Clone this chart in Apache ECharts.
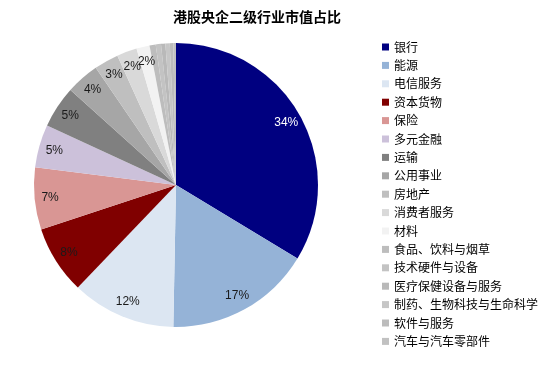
<!DOCTYPE html>
<html>
<head>
<meta charset="utf-8">
<script src="https://cdn.jsdelivr.net/npm/echarts@6/dist/echarts.min.js"></script>
<style>
html,body{margin:0;padding:0;background:#fff;}
#chart{width:550px;height:366px;}
</style>
</head>
<body>
<div id="chart"></div>
<script>
var titleText = '港股央企二级行业市值占比';
var categories = ['银行','能源','电信服务','资本货物','保险','多元金融','运输','公用事业','房地产','消费者服务','材料','食品、饮料与烟草','技术硬件与设备','医疗保健设备与服务','制药、生物科技与生命科学','软件与服务','汽车与汽车零部件'];
var values = [33.8, 16.7, 11.9, 7.8, 7.1, 4.9, 4.8, 3.8, 2.8, 2.3, 1.5, 0.7, 0.6, 0.5, 0.5, 0.4, 0.3];
var colors = ['#000080','#95b3d7','#dce6f2','#800000','#d99694','#ccc1da','#808080','#a6a6a6','#bfbfbf','#d9d9d9','#f2f2f2','#bdbdbd','#c3c3c3','#b9b9b9','#c6c6c6','#bcbcbc','#c1c1c1'];
var labelColors = ['#ffffff'];

var chart = echarts.init(document.getElementById('chart'), null, {renderer:'canvas'});
var data = categories.map(function(n,i){return {name:n, value:values[i], itemStyle:{color:colors[i]}};});
var labelData = categories.map(function(n,i){return {name:n, value:values[i], label:{color: labelColors[i] || '#1a1a1a'}};});
var cx = 176, cy = 185, R = 142;
chart.setOption({
  animation:false,
  title:{text:titleText, left:252, top:5, textAlign:'center',
    textStyle:{fontSize:14, fontWeight:'bold', color:'#000', fontFamily:'"Noto Sans CJK SC", sans-serif'}},
  legend:{orient:'vertical', left:377, top:35, itemWidth:7, itemHeight:7, itemGap:4.4, icon:'rect',
    data:categories,
    textStyle:{fontSize:12, color:'#000', lineHeight:14, fontFamily:'"Noto Sans CJK SC", sans-serif'}},
  series:[
    {type:'pie', center:[cx,cy], radius:[0,R], startAngle:90, clockwise:true, label:{show:false}, labelLine:{show:false},
     itemStyle:{borderWidth:0}, emphasis:{disabled:true}, data:data},
    {type:'pie', center:[cx,cy], radius:[R*0.74,R], startAngle:90, clockwise:true, silent:true, legendHoverLink:false,
     minShowLabelAngle:0, avoidLabelOverlap:false, labelLayout:{hideOverlap:false},
     itemStyle:{color:'rgba(0,0,0,0)', borderWidth:0}, labelLine:{show:false},
     label:{show:true, position:'inside', fontSize:12, fontFamily:'"Liberation Sans", Arial, sans-serif',
       formatter:function(p){ return p.value >= 1 ? Math.round(p.value) + '%' : ''; }},
     emphasis:{disabled:true}, data:labelData}
  ]
});
</script>
</body>
</html>
